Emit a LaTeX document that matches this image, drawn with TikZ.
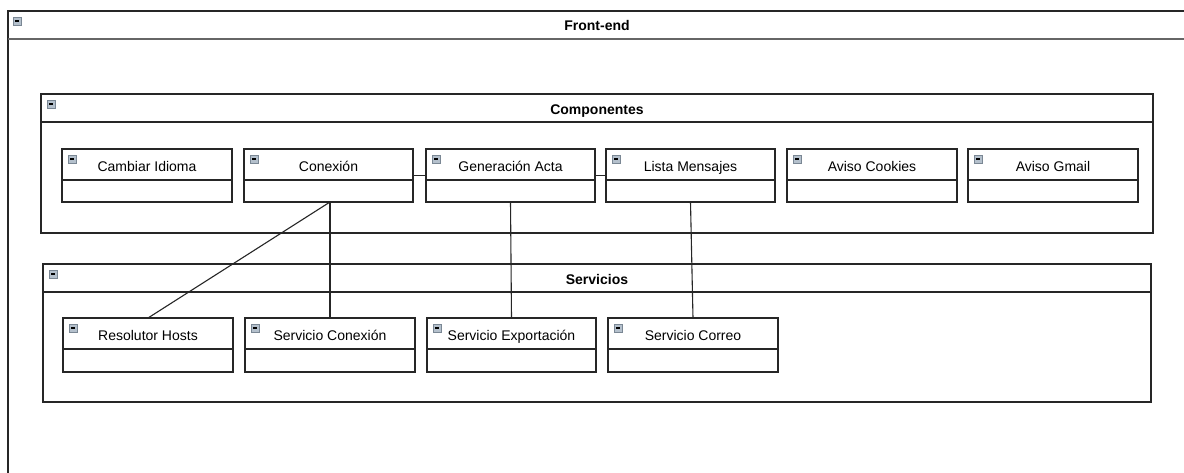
\documentclass[tikz,border=0pt]{standalone}
\usepackage{fontspec}
\setmainfont{Liberation Sans}
\definecolor{edge}{HTML}{262626}
\definecolor{iconfill}{HTML}{B4C0CC}
\definecolor{iconline}{HTML}{7A8794}
\tikzset{
  frame/.style={draw=edge, line width=1.1pt, fill=white, inner sep=0pt, outer sep=0pt, rectangle},
  sepline/.style={draw=edge, line width=1.1pt},
  lbl/.style={inner sep=0pt, anchor=base, font=\fontsize{14}{16}\selectfont},
  hdr/.style={lbl, font=\fontsize{14}{16}\selectfont\bfseries},
  toggle/.style={draw=iconline, fill=iconfill, line width=0.6pt},
  link/.style={draw=edge, line width=1.1pt},
}
% collapse toggle drawn at an offset from a corner
\newcommand\togglebox[3]{%
  \draw[toggle] ([shift={(#2,#3)}]#1) rectangle ++(8,8);
  \draw[black, line width=1.2pt] ([shift={(#2+2,#3+4)}]#1) -- ++(4,0);
}
% class box: name, x1, y1, x2, y2, label
\newcommand\classbox[6]{%
  \node[frame, minimum width={#4-#2}, minimum height={#5-#3}] (#1) at ({(#2+#4)/2},{(#3+#5)/2}) {};
  \draw[sepline] ([yshift=-31pt]#1.north west) -- ([yshift=-31pt]#1.north east);
  \node[lbl] (#1-t) at ([yshift=-22pt]#1.north) {#6};
  \togglebox{#1.north west}{6}{6}
}
% package container: name, x1, y1, x2, y2, title
\newcommand\groupbox[6]{%
  \node[frame, minimum width={#4-#2}, minimum height={#5-#3}] (#1) at ({(#2+#4)/2},{(#3+#5)/2}) {};
  \draw[sepline] ([yshift=-28pt]#1.north west) -- ([yshift=-28pt]#1.north east);
  \node[hdr] (#1-t) at ([yshift=-20pt]#1.north) {#6};
  \togglebox{#1.north west}{6}{6}
}
\begin{document}
\begin{tikzpicture}[x=1pt, y=-1pt]
\useasboundingbox (0,0) rectangle (1184,472);
\fill[white] (0,0) rectangle (1184,472);

% outer Front-end package, running past the right and bottom edges
\begin{scope}
  \clip (0,0) rectangle (1184,472);
  \node[frame, minimum width=1200, minimum height=480] (front) at (608,251) {};
  \draw[draw=gray!80!black, line width=2pt] ([yshift=-28pt]front.north west) -- ([yshift=-28pt]front.north east);
\end{scope}
\node[hdr] (front-t) at (597,30) {Front-end};
\togglebox{front.north west}{5}{6}

% Componentes
\groupbox{comp}{41}{94}{1153}{233}{Componentes}
\classbox{idioma}{62}{149}{232}{202}{Cambiar Idioma}
\classbox{conexion}{244}{149}{413}{202}{Conexión}
\classbox{acta}{426}{149}{595}{202}{Generación Acta}
\classbox{mensajes}{606}{149}{775}{202}{Lista Mensajes}
\classbox{cookies}{787}{149}{957}{202}{Aviso Cookies}
\classbox{gmail}{968}{149}{1138}{202}{Aviso Gmail}

% Servicios
\groupbox{serv}{43}{264}{1151}{402}{Servicios}
\classbox{hosts}{63}{318}{233}{372}{Resolutor Hosts}
\classbox{sconexion}{245}{318}{415}{372}{Servicio Conexión}
\classbox{export}{427}{318}{596}{372}{Servicio Exportación}
\classbox{correo}{608}{318}{778}{372}{Servicio Correo}

% associations
\draw[link] (conexion.east) -- (acta.west);
\draw[link] (acta.east) -- (mensajes.west);
\draw[link] ([xshift=1.5pt]conexion.south) -- (hosts.north);
\draw[link] ([xshift=1.5pt]conexion.south) -- (sconexion.north);
\draw[link] (acta.south) -- (export.north);
\draw[link] (mensajes.south) -- (correo.north);
\end{tikzpicture}
\end{document}
